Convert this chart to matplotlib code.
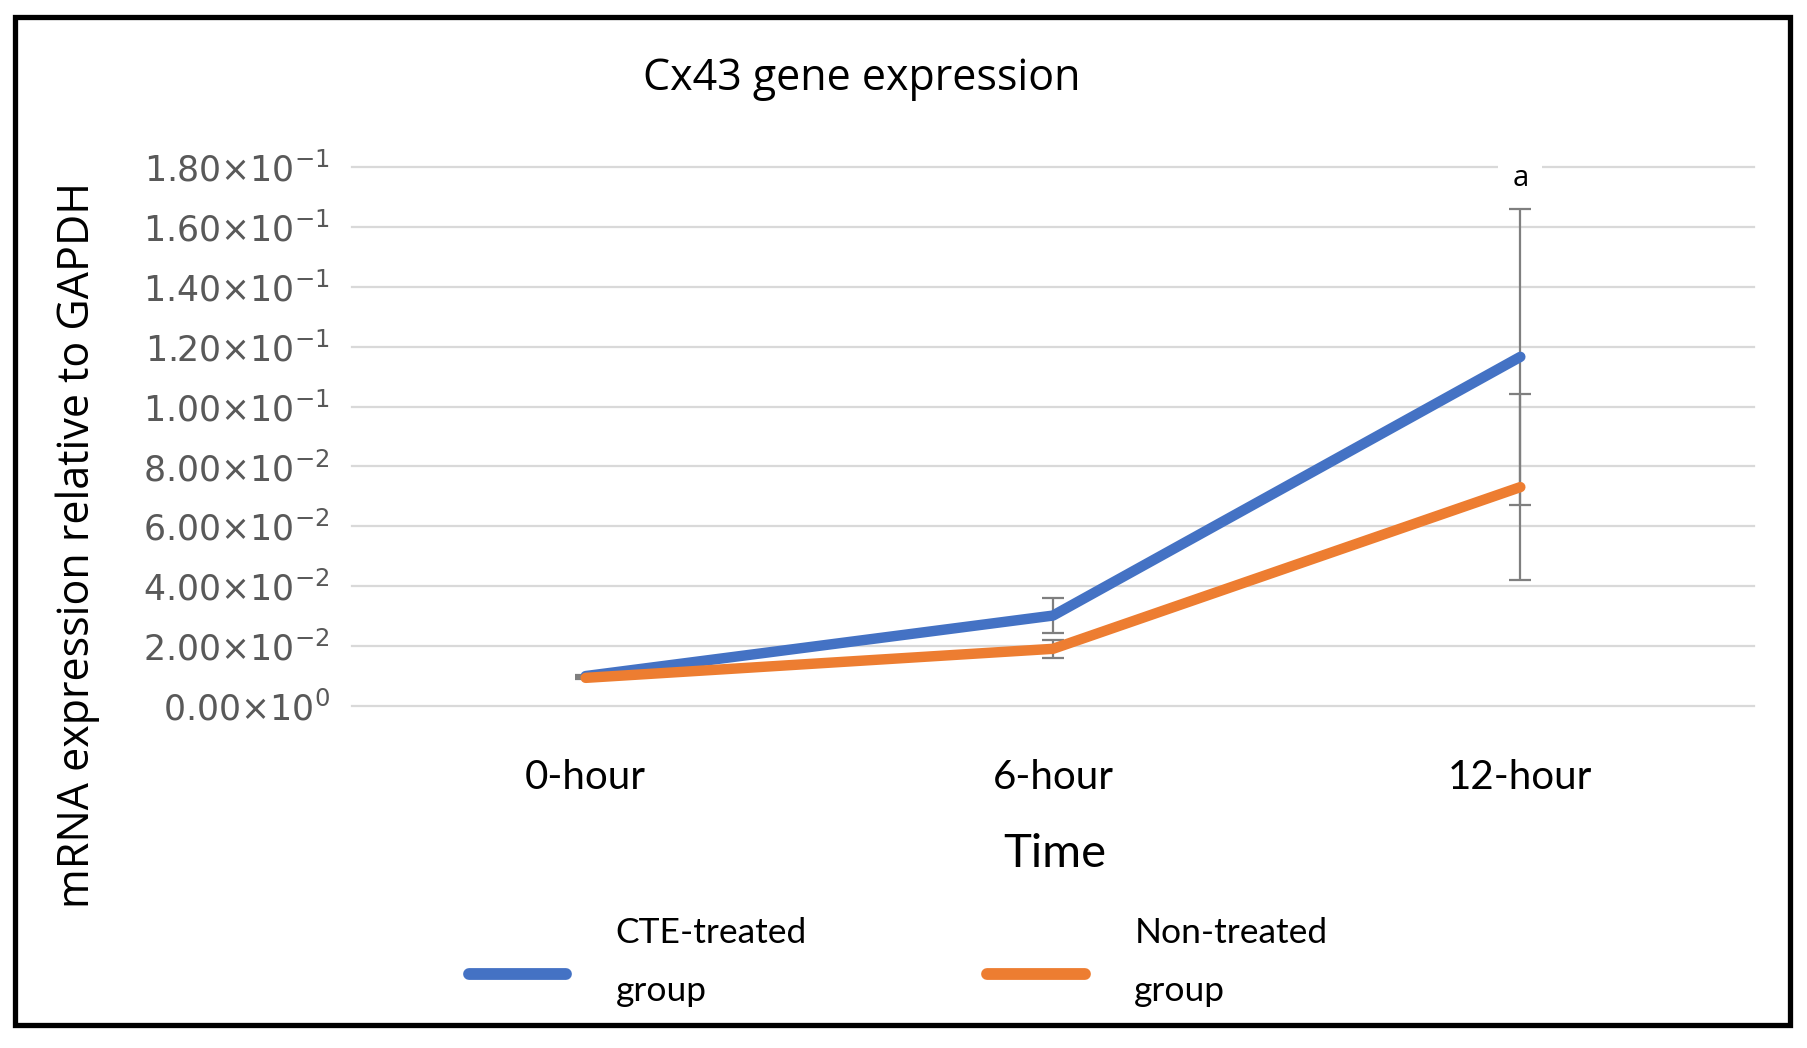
import matplotlib
matplotlib.use("Agg")
import matplotlib.pyplot as plt
import matplotlib.ticker as mticker
from matplotlib.lines import Line2D
from matplotlib.legend_handler import HandlerLine2D
from matplotlib.patches import Rectangle

# data
times = ["0-hour", "6-hour", "12-hour"]
cte_mean = [0.0100, 0.0302, 0.1166]
cte_err = [0.0005, 0.0057, 0.0494]
non_mean = [0.0094, 0.0191, 0.0731]
non_err = [0.0005, 0.0030, 0.0311]
y_ticks = [0.0, 0.02, 0.04, 0.06, 0.08, 0.10, 0.12, 0.14, 0.16, 0.18]

BLUE = "#4472C4"
ORANGE = "#ED7D31"
GREY = "#595959"

plt.rcParams["mathtext.default"] = "regular"


def sci_label(v, pos=None):
    if v == 0:
        return r"$0.00{\times}10^{0}$"
    exp = 0
    m = v
    while abs(m) < 1:
        m *= 10
        exp -= 1
    return r"$%.2f{\times}10^{%d}$" % (m, exp)


class LowLine(HandlerLine2D):
    # legend line sits a bit under the middle of the two-line label
    def create_artists(self, legend, orig_handle, xdescent, ydescent, width, height, fontsize, trans):
        return super().create_artists(legend, orig_handle, xdescent, ydescent + 16, width, height,
                                      fontsize, trans)


fig = plt.figure(figsize=(18.08, 10.48), dpi=100)
ax = fig.add_axes([352 / 1808, 1 - 706 / 1048, (1754 - 352) / 1808, (706 - 167) / 1048])

x = list(range(len(times)))
ax.errorbar(x, cte_mean, yerr=cte_err, color=BLUE, lw=7.5, ecolor="#7f7f7f",
            elinewidth=1.6, capsize=8, capthick=1.6, solid_capstyle="round", zorder=3)
ax.errorbar(x, non_mean, yerr=non_err, color=ORANGE, lw=7.5, ecolor="#7f7f7f",
            elinewidth=1.6, capsize=8, capthick=1.6, solid_capstyle="round", zorder=4)

ax.set_xlim(-0.5, len(times) - 0.5)
ax.set_ylim(0, 0.18)
ax.set_yticks(y_ticks)
ax.yaxis.set_major_formatter(mticker.FuncFormatter(sci_label))
ax.set_xticks(x)
ax.set_xticklabels(times, family="Lato", fontsize=29)
ax.tick_params(axis="y", length=0, pad=16, labelsize=25, labelcolor=GREY)
ax.tick_params(axis="x", length=0, pad=38)
for s in ax.spines.values():
    s.set_visible(False)
ax.grid(axis="y", color="#d9d9d9", lw=1.6, zorder=0)
for gl in ax.get_ygridlines():
    gl.set_clip_on(False)
ax.set_axisbelow(True)

ax.text(2, 0.176, "a", ha="center", va="center", fontsize=21, family="Open Sans",
        bbox=dict(facecolor="white", edgecolor="none", pad=10), zorder=2)

fig.text(862 / 1808, 1 - 79 / 1048, "Cx43 gene expression", ha="center", va="center",
         fontsize=31, family="Open Sans")
fig.text(78 / 1808, 1 - 545 / 1048, "mRNA expression relative to GAPDH", ha="center",
         va="center", rotation=90, fontsize=31, family="Open Sans")
fig.text(1055 / 1808, 1 - 854 / 1048, "Time", ha="center", va="center",
         fontsize=34, family="Lato")

handles = [Line2D([], [], color=BLUE, lw=8.5, solid_capstyle="round"),
           Line2D([], [], color=ORANGE, lw=8.5, solid_capstyle="round")]
leg = fig.legend(handles, ["CTE-treated\ngroup", "Non-treated\ngroup"], loc="center",
                 bbox_to_anchor=(898 / 1808, 1 - 962 / 1048), ncol=2,
                 frameon=False, prop={"family": "Lato", "size": 25.5},
                 handlelength=2.75, handletextpad=1.4, columnspacing=5.1,
                 handler_map={Line2D: LowLine()})
for t in leg.get_texts():
    t.set_linespacing(2.0)

fig.add_artist(Rectangle((15 / 1808, 1 - 1025 / 1048), (1790 - 15) / 1808, (1025 - 17) / 1048,
                         transform=fig.transFigure, fill=False, edgecolor="black", lw=3.8))

fig.savefig("out.png", dpi=100, facecolor="white")
